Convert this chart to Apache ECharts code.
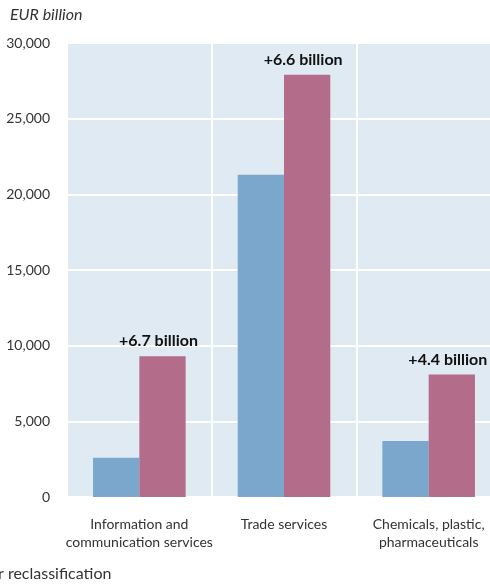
<!DOCTYPE html>
<html>
<head>
<meta charset="utf-8">
<script src="https://cdn.jsdelivr.net/npm/echarts@6/dist/echarts.min.js"></script>
<style>
html,body{margin:0;padding:0;background:#fff;overflow:hidden;}
/* the source picture is cropped on the right, so the canvas is a bit wider than the window */
#chart{width:501px;height:587px;}
</style>
</head>
<body>
<div id="chart"></div>
<script>
// categories and values (EUR billion)
var categories = ['Information and\ncommunication services', 'Trade services', 'Chemicals, plastic,\npharmaceuticals'];
var before = [2600, 21300, 3700];
var after = [9300, 27900, 8100];
var diffLabels = ['+6.7 billion', '+6.6 billion', '+4.4 billion'];
var yTicks = [0, 5000, 10000, 15000, 20000, 25000, 30000];

var myChart = echarts.init(document.getElementById('chart'));

var option = {
    animation: false,
    textStyle: { fontFamily: 'Lato' },
    grid: {
        left: 67, right: 0, top: 43, bottom: 90,
        show: true, backgroundColor: '#e0eaf3', borderWidth: 0
    },
    graphic: [
        { type: 'text', left: 10, top: 7,
          style: { text: 'EUR billion', font: 'italic 16px Lato', fill: '#333' } },
        { type: 'text', left: -2, top: 566,
          style: { text: 'r reclassification', font: '16px Lato', fill: '#333' } }
    ],
    xAxis: {
        type: 'category',
        data: categories,
        axisLine: { show: false },
        axisTick: { show: false },
        splitLine: { show: true, interval: 0, lineStyle: { color: '#fff', width: 2 } },
        axisLabel: { interval: 0, color: '#333', fontSize: 14, margin: 18, lineHeight: 18 }
    },
    yAxis: {
        type: 'value',
        min: yTicks[0],
        max: yTicks[yTicks.length - 1],
        interval: 5000,
        axisLine: { show: false },
        axisTick: { show: false },
        splitLine: { lineStyle: { color: '#fff', width: 2 } },
        axisLabel: {
            color: '#333', fontSize: 14, margin: 17,
            formatter: function (v) { return v.toLocaleString('en-US'); }
        }
    },
    series: [{
        type: 'bar',
        data: before,
        barWidth: '32%',
        barGap: '0%',
        itemStyle: { color: '#7aa7cb' }
    }, {
        type: 'bar',
        data: after,
        barWidth: '32%',
        itemStyle: { color: '#b36c89' },
        label: {
            show: true,
            position: 'top',
            distance: 7,
            offset: [-4, 0],
            color: '#111',
            fontSize: 16,
            fontWeight: 'bold',
            formatter: function (p) { return diffLabels[p.dataIndex]; }
        }
    }]
};
myChart.setOption(option);
</script>
</body>
</html>
